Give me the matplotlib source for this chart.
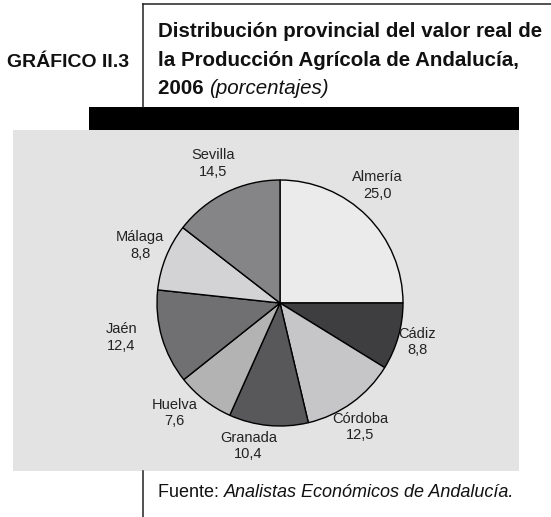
import matplotlib
matplotlib.use("Agg")
import matplotlib.pyplot as plt
from matplotlib.patches import Rectangle
from matplotlib.lines import Line2D
import numpy as np

# Provincial share of agricultural output value, Andalucía 2006 (%)
provinces = ["Almería", "Cádiz", "Córdoba", "Granada", "Huelva", "Jaén", "Málaga", "Sevilla"]
shares = [25.0, 8.8, 12.5, 10.4, 7.6, 12.4, 8.8, 14.5]
value_labels = ["25,0", "8,8", "12,5", "10,4", "7,6", "12,4", "8,8", "14,5"]

wedge_colors = ["#ebebeb", "#3e3e40", "#c6c6c8", "#58585a", "#b3b3b4", "#707072", "#d3d3d5", "#858587"]
# label placement: (radius in pie units, angle shift in degrees)
label_radius = [1.24, 1.16, 1.20, 1.19, 1.24, 1.32, 1.23, 1.26]
label_shift = [5.5, 0.0, -3.0, -7.0, -6.0, -4.0, -0.5, -0.5]

W, H = 551, 517
fig = plt.figure(figsize=(W / 100, H / 100), dpi=100)
FONT = "Liberation Sans"


def fx(px):
    return px / W


def fy(py):
    return 1 - py / H


# frame lines, header bar and grey panel
fig.add_artist(Line2D([fx(143), fx(143)], [fy(4), fy(107)], color="#222222", lw=1.1))
fig.add_artist(Line2D([fx(143), fx(551)], [fy(4), fy(4)], color="#222222", lw=1.1))
fig.add_artist(Line2D([fx(143), fx(143)], [fy(471), fy(517)], color="#222222", lw=1.1))
fig.add_artist(Rectangle((fx(89), fy(130)), fx(519) - fx(89), fy(107) - fy(130),
                         facecolor="black", edgecolor="none", zorder=-2))
fig.add_artist(Rectangle((fx(13), fy(471)), fx(519) - fx(13), fy(130) - fy(471),
                         facecolor="#e2e3e2", edgecolor="none", zorder=-2))

# header texts
fig.text(fx(7), fy(67), "GRÁFICO II.3", fontsize=14, fontweight="bold",
         family=FONT, color="#111111", ha="left", va="baseline")
title_lines = ["Distribución provincial del valor real de",
               "la Producción Agrícola de Andalucía,"]
for i, line in enumerate(title_lines):
    fig.text(fx(158), fy(37 + 28.5 * i), line, fontsize=14.8, fontweight="bold",
             family=FONT, color="#111111", ha="left", va="baseline")
t = fig.text(fx(158), fy(94), "2006 ", fontsize=14.8, fontweight="bold",
             family=FONT, color="#111111", ha="left", va="baseline")
fig.canvas.draw()
bb = t.get_window_extent()
fig.text(bb.x1 / W, fy(94), "(porcentajes)", fontsize=14.8, style="italic",
         family=FONT, color="#111111", ha="left", va="baseline")

# source line
s = fig.text(fx(158), fy(497), "Fuente: ", fontsize=13, family=FONT,
             color="#111111", ha="left", va="baseline")
fig.canvas.draw()
bb = s.get_window_extent()
fig.text(bb.x1 / W, fy(497), "Analistas Económicos de Andalucía.", fontsize=13,
         style="italic", family=FONT, color="#111111", ha="left", va="baseline")

# pie axes: centre (280, 303) px, radius 123 px
cx, cy, R = 280, 303, 123
left, right, top, bottom = 13, 519, 130, 471
ax = fig.add_axes([fx(left), fy(bottom), fx(right) - fx(left), fy(top) - fy(bottom)])
wedges, _ = ax.pie(shares, colors=wedge_colors, startangle=90, counterclock=False,
                   radius=1.0, wedgeprops=dict(edgecolor="black", linewidth=1.0))
ax.set_xlim((left - cx) / R, (right - cx) / R)
ax.set_ylim((cy - bottom) / R, (cy - top) / R)
ax.set_aspect("auto")
ax.axis("off")

for w, name, val, r, dshift in zip(wedges, provinces, value_labels, label_radius, label_shift):
    mid = np.deg2rad((w.theta1 + w.theta2) / 2 + dshift)
    ax.text(r * np.cos(mid), r * np.sin(mid), f"{name}\n{val}", ha="center", va="center",
            fontsize=10.5, family=FONT, color="#222222", linespacing=1.25, zorder=5)

fig.savefig("out.png", dpi=100)
